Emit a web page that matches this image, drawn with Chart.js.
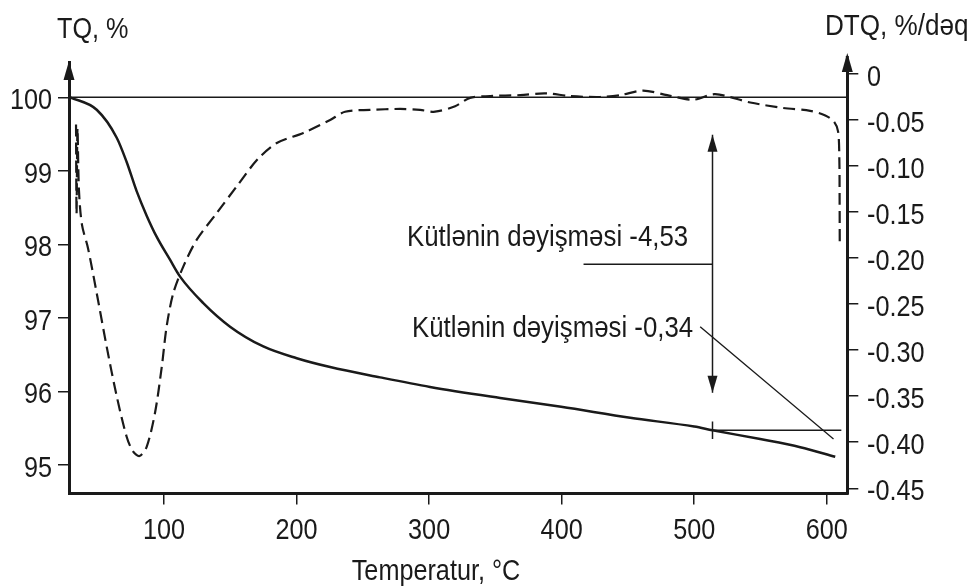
<!DOCTYPE html>
<html>
<head>
<meta charset="utf-8">
<script src="https://cdn.jsdelivr.net/npm/chart.js@4.4.0/dist/chart.umd.min.js"></script>
<style>
  html, body { margin: 0; padding: 0; background: #fff; }
  #wrap { width: 974px; height: 588px; }
</style>
</head>
<body>
<div id="wrap"><canvas id="tg"></canvas></div>
<script>
'use strict';

/* ── temperature axis, °C ───────────────────────────── */
const X_MIN = 28.3, X_MAX = 615.5;
const X_TICKS = [100, 200, 300, 400, 500, 600];

/* ── TQ, % (left axis) ──────────────────────────────── */
const TQ_MIN = 94.61, TQ_MAX = 100.48;
const TQ_TICKS = [95, 96, 97, 98, 99, 100];

const tgTemp = [29.1, 49.2, 64.3, 71.8, 79.4, 86.9, 94.5, 104.5, 112.1, 129.6, 149.8, 174.9,
                200.1, 225.3, 263.0, 300.7, 353.6, 399.6, 451.7, 500.0, 513.8, 549.8, 580.0, 606.4];
const tgMass = [100.0, 99.83, 99.45, 99.12, 98.72, 98.39, 98.10, 97.79, 97.56, 97.20, 96.88, 96.61,
                96.45, 96.33, 96.19, 96.06, 95.91, 95.79, 95.64, 95.52, 95.47, 95.35, 95.24, 95.11];

/* ── DTQ, %/dəq (right axis) ────────────────────────── */
const DTQ_MIN = -0.4557, DTQ_MAX = 0.013;
const DTQ_TICKS = [0, -0.05, -0.10, -0.15, -0.20, -0.25, -0.30, -0.35, -0.40, -0.45];

const dtgTemp = [33.6, 34.0, 34.7, 35.8, 38.1, 42.6, 49.2, 56.7, 64.3, 71.8, 76.6, 81.5, 86.9,
                 93.2, 98.3, 102.0, 107.0, 114.6, 124.7, 139.8, 154.9, 170.4, 185.1, 205.1,
                 225.3, 236.6, 255.5, 278.1, 293.2, 304.5, 319.6, 330.9, 346.0, 368.7, 387.5,
                 406.4, 429.1, 444.2, 461.5, 479.6, 499.2, 515.8, 542.3, 567.2, 587.5, 598.9,
                 605.6, 608.6, 609.5, 609.7, 609.8];
const dtgRate = [-0.055, -0.152, -0.059, -0.126, -0.164, -0.189, -0.238, -0.296, -0.350, -0.394,
                 -0.410, -0.415, -0.405, -0.368, -0.318, -0.274, -0.238, -0.209, -0.180, -0.151,
                 -0.122, -0.093, -0.075, -0.064, -0.050, -0.041, -0.039, -0.038, -0.039, -0.041,
                 -0.035, -0.026, -0.024, -0.023, -0.021, -0.024, -0.025, -0.023, -0.018, -0.023,
                 -0.028, -0.022, -0.031, -0.037, -0.040, -0.045, -0.052, -0.063, -0.093, -0.137,
                 -0.186];

/* ── mass-change markers ────────────────────────────── */
const STEP_TEMP  = 513.8;
const STEP_LOSS  = 4.53;
const LEVEL_MASS = 100 - STEP_LOSS;
const ARROW_TOP  = 99.49, ARROW_BOTTOM = 95.98;
const LEADER1 = { from: 416.5, to: STEP_TEMP, mass: 97.73 };
const LEADER2 = { from: [504.5, 96.88], to: [605.1, 95.35] };
const LEVEL_END = 611;
const LABEL1 = { text: 'Kütlənin dəyişməsi -4,53', temp: 495.4, mass: 98.124 };
const LABEL2 = { text: 'Kütlənin dəyişməsi -0,34', temp: 499.2, mass: 96.879 };

const INK  = '#1a1a1a';
const FONT = '29px "Liberation Sans", Arial, sans-serif';
const HALF_CAP = 10.4;   // half the cap height at 29px

const pts = (xs, ys) => xs.map((x, i) => ({ x, y: ys[i] }));

function seg(data, width, extra = {}) {
  return { data, borderColor: INK, borderWidth: width, pointRadius: 0, tension: 0, yAxisID: 'y', ...extra };
}

/* ── narrow text: the typeface is a condensed grotesque ── */
function narrowText(ctx, str, x, y, align, k) {
  ctx.save();
  ctx.translate(x, y);
  ctx.scale(k, 1);
  ctx.textAlign = align;
  ctx.fillText(str, 0, 0);
  ctx.restore();
}

function arrowHead(ctx, x, y, dir, len, half) {
  ctx.beginPath();
  ctx.moveTo(x, y);
  ctx.lineTo(x - half, y + dir * len);
  ctx.lineTo(x + half, y + dir * len);
  ctx.closePath();
  ctx.fill();
}

const decor = {
  id: 'decor',
  afterDatasetsDraw(chart) {
    const { ctx, chartArea: a, scales: { x, y, y1 } } = chart;
    ctx.save();
    ctx.fillStyle = INK;
    ctx.strokeStyle = INK;

    // axis arrows
    arrowHead(ctx, a.left, a.top - 1, 1, 19, 5.5);
    ctx.lineWidth = 3;
    ctx.beginPath(); ctx.moveTo(a.right, a.top + 2); ctx.lineTo(a.right, a.top - 6); ctx.stroke();
    arrowHead(ctx, a.right, a.top - 9, 1, 19, 5.5);

    // double arrow of the mass step
    const ax = x.getPixelForValue(STEP_TEMP);
    arrowHead(ctx, ax, y.getPixelForValue(ARROW_TOP), 1, 17, 5);
    arrowHead(ctx, ax, y.getPixelForValue(ARROW_BOTTOM), -1, 17, 5);

    ctx.font = FONT;
    ctx.textBaseline = 'alphabetic';

    // tick labels
    TQ_TICKS.forEach(v => narrowText(ctx, String(v), 52, y.getPixelForValue(v) + HALF_CAP + 1.5, 'right', 0.87));
    DTQ_TICKS.forEach(v => narrowText(ctx, v === 0 ? '0' : v.toFixed(2), 867,
                                      y1.getPixelForValue(v) + HALF_CAP + 1.5, 'left', 0.87));
    X_TICKS.forEach(v => narrowText(ctx, String(v), x.getPixelForValue(v), 539, 'center', 0.87));

    // annotations
    [LABEL1, LABEL2].forEach(l =>
      narrowText(ctx, l.text, x.getPixelForValue(l.temp), y.getPixelForValue(l.mass) + HALF_CAP, 'right', 0.89));

    // axis titles
    narrowText(ctx, 'TQ, %', 57, 38, 'left', 0.87);
    narrowText(ctx, 'DTQ, %/dəq', 825, 35, 'left', 0.9);
    narrowText(ctx, 'Temperatur, °C', 436, 580, 'center', 0.87);
    ctx.restore();
  }
};

const axisCommon = {
  grid: { drawOnChartArea: false, drawTicks: true, tickLength: 11, color: INK, lineWidth: 1.5 },
  border: { display: true, color: INK, width: 3 },
  ticks: { display: false }
};

new Chart(document.getElementById('tg'), {
  type: 'line',
  data: {
    datasets: [
      seg([{ x: X_MIN, y: 100 }, { x: X_MAX, y: 100 }], 1.5),
      seg(pts(tgTemp, tgMass), 2.5, { cubicInterpolationMode: 'monotone' }),
      { data: pts(dtgTemp, dtgRate), yAxisID: 'y1', borderColor: INK, borderWidth: 2.2,
        borderDash: [12, 6], pointRadius: 0, tension: 0.3 },
      seg([{ x: STEP_TEMP, y: ARROW_TOP }, { x: STEP_TEMP, y: ARROW_BOTTOM }], 1.5),
      seg([{ x: LEADER1.from, y: LEADER1.mass }, { x: LEADER1.to, y: LEADER1.mass }], 1.5),
      seg([{ x: STEP_TEMP, y: LEVEL_MASS }, { x: LEVEL_END, y: LEVEL_MASS }], 1.5),
      seg([{ x: STEP_TEMP, y: LEVEL_MASS + 0.12 }, { x: STEP_TEMP, y: LEVEL_MASS - 0.12 }], 1.5),
      seg([{ x: LEADER2.from[0], y: LEADER2.from[1] }, { x: LEADER2.to[0], y: LEADER2.to[1] }], 1.3)
    ]
  },
  options: {
    responsive: true,
    maintainAspectRatio: false,
    animation: false,
    events: [],
    layout: { padding: { top: 62, left: 0, right: 0, bottom: 0 } },
    plugins: { legend: { display: false }, tooltip: { enabled: false } },
    scales: {
      x: {
        type: 'linear', min: X_MIN, max: X_MAX, ...axisCommon,
        afterBuildTicks: s => { s.ticks = X_TICKS.map(v => ({ value: v })); },
        afterFit: s => { s.height = 94.5; }
      },
      y: {
        type: 'linear', position: 'left', min: TQ_MIN, max: TQ_MAX, ...axisCommon,
        afterBuildTicks: s => { s.ticks = TQ_TICKS.map(v => ({ value: v })); },
        afterFit: s => { s.width = 69; }
      },
      y1: {
        type: 'linear', position: 'right', min: DTQ_MIN, max: DTQ_MAX, ...axisCommon,
        afterBuildTicks: s => { s.ticks = DTQ_TICKS.map(v => ({ value: v })); },
        afterFit: s => { s.width = 126.7; }
      }
    }
  },
  plugins: [decor]
});
</script>
</body>
</html>
